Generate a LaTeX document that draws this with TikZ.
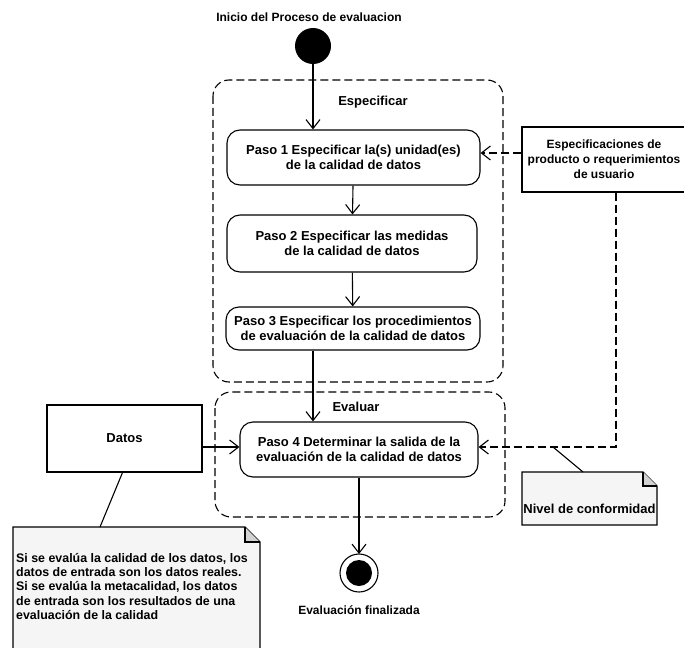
\documentclass[tikz,border=0pt]{standalone}
\usepackage{fontspec}
\setmainfont{Liberation Sans}
\usetikzlibrary{arrows.meta,positioning}

\tikzset{
  texto/.style={font=\bfseries\fontsize{13}{15}\selectfont},
  paso/.style={texto, draw, line width=1.1pt, rounded corners=13pt, align=center, inner sep=0pt},
  grupo/.style={draw, line width=1.1pt, dash pattern=on 8pt off 4pt, rounded corners=16pt},
  caja/.style={texto, draw, line width=1.1pt, align=center, inner sep=0pt},
  nota/.style={texto, align=left, inner sep=0pt},
  pliegue/.style={draw, line width=1.1pt, fill=gray!8},
  esquina/.style={draw, line width=1.1pt, fill=gray!35},
  flecha/.style={line width=1.1pt, -{Straight Barb[length=9pt,width=14pt]}},
  flechad/.style={flecha, dash pattern=on 8pt off 4pt},
}

\begin{document}
\begin{tikzpicture}[x=1pt,y=-1pt]
  \useasboundingbox (0,0) rectangle (684,647);

  % grupos
  \draw[grupo] (213,80) rectangle (503,382);
  \draw[grupo] (215,392) rectangle (505,517);
  \node[texto] (esp) at (373,102) {Especificar};
  \node[texto] (eva) at (356,407) {Evaluar};

  \node[texto, font=\bfseries\fontsize{12}{14}\selectfont] (titulo) at (309,17) {Inicio del Proceso de evaluacion};
  \fill (313,46) circle (18pt) coordinate (inicio);

  \node[paso, minimum width=253pt, minimum height=55pt] (p1) at (353.5,157.5)
    {Paso 1 Especificar la(s) unidad(es)\\ de la calidad de datos};
  \node[paso, minimum width=250pt, minimum height=57pt] (p2) at (352,243.5)
    {Paso 2 Especificar las medidas\\ de la calidad de datos};
  \node[paso, minimum width=254pt, minimum height=43pt] (p3) at (353,328.5)
    {Paso 3 Especificar los procedimientos\\ de evaluación de la calidad de datos};
  \node[paso, minimum width=238pt, minimum height=55pt] (p4) at (359,449.5)
    {Paso 4 Determinar la salida de la\\ evaluación de la calidad de datos};

  % fin
  \draw[line width=1.1pt, fill=white] (359,573) circle (19pt);
  \fill (359,573) circle (13pt);
  \coordinate (fin) at (359,554);
  \node[texto, font=\bfseries\fontsize{12}{14}\selectfont] (fintxt) at (359,610) {Evaluación finalizada};

  % entradas
  \node[caja, font=\bfseries\fontsize{12}{15}\selectfont, minimum width=164pt, minimum height=65pt] (espec) at (604,159.5)
    {Especificaciones de\\ producto o requerimientos\\ de usuario};
  \node[caja, minimum width=155pt, minimum height=67pt] (datos) at (124.5,438.5) {Datos};

  % notas
  \draw[pliegue] (522,472) -- (643,472) -- (657,486) -- (657,525) -- (522,525) -- cycle;
  \draw[esquina] (643,472) -- (643,486) -- (657,486);
  \node[texto] (nivel) at (589.5,509) {Nivel de conformidad};

  \draw[pliegue] (13,527) -- (245,527) -- (260,542) -- (260,652) -- (13,652) -- cycle;
  \draw[esquina] (245,527) -- (245,542) -- (260,542);
  \node[nota, font=\bfseries\fontsize{12.4}{14.3}\selectfont, anchor=north west] (datnota) at (16,553)
    {Si se evalúa la calidad de los datos, los\\ datos de entrada son los datos reales.\\
     Si se evalúa la metacalidad, los datos\\ de entrada son los resultados de una\\
     evaluación de la calidad};

  % flujo
  \draw[flecha] (inicio) -- (p1.north -| inicio);
  \draw[flecha] (p1) -- (p2);
  \draw[flecha] (p2) -- (p3);
  \draw[flecha] (p3.south -| inicio) -- (p4.north -| inicio);
  \draw[flecha] (p4) -- (fin);

  \draw[flechad] (espec.west |- 0,153) -- (p1.east |- 0,153);
  \coordinate (codo) at (616,447);
  \draw[flechad] (espec.south -| codo) -- (codo) -- (p4.east |- codo);
  \draw[line width=1.1pt] (583,472) -- (553,447);
  \draw[flecha] (datos.east |- 0,447) -- (p4.west |- 0,447);
  \draw[line width=1.1pt] (datos.south) ++(-2pt,0) -- (100,527);
\end{tikzpicture}
\end{document}
